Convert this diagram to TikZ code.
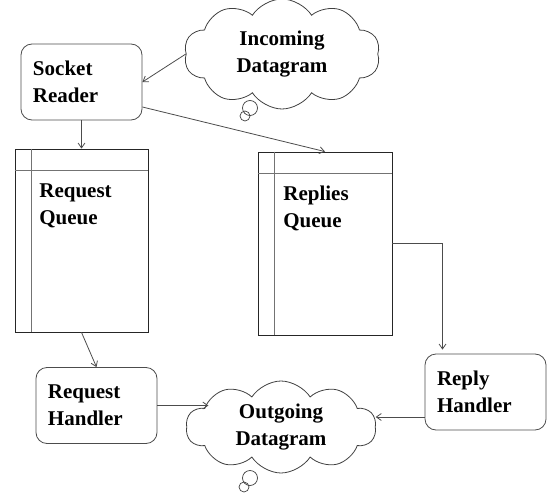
\documentclass[tikz,border=0pt]{standalone}
\usepackage{fontspec}
\setmainfont{Liberation Serif}
\usetikzlibrary{
		calc,
		positioning,
		arrows.meta,
		shapes.symbols
	}
\tikzset{
		>={Straight Barb[angle=70:6bp]}
	}
\newcommand{\Lbl}{\fontsize{21bp}{27bp}\bfseries\selectfont}

\begin{document}
\begin{tikzpicture}[x=1bp, y=1bp, line width=0.8bp, font=\Lbl,
					stepbox/.style={draw=black!70, rounded corners=11bp, align=left, text width=97bp, inner xsep=12bp, minimum height=76bp},
					queue/.style={draw=black!85, minimum width=133bp, minimum height=183bp, inner sep=0pt},
					qline/.style={draw=black!55},
					bubble/.style={cloud, draw=black!75, cloud puffs=10, cloud puff arc=115, cloud ignores aspect, align=center, inner sep=0pt},
					puff/.style={draw=black!75, line width=0.7bp},
					link/.style={->, draw=black!70}]
		\useasboundingbox (0,0) rectangle (547,-495);
		% sender side
		\node[stepbox] (sreader) at (81.5,-82) {Socket\\Reader};
		\node[bubble, minimum width=196bp, minimum height=110bp] (incoming) at (282,-54) {Incoming\\Datagram};
		\draw[puff] (250,-108) circle (7.5bp);
		\draw[puff] (245,-116) circle (5bp);
		% the two queues
		\node[queue] (rqueue) at (81.5,-240.5) {};
		\node[queue, minimum width=134bp] (pqueue) at (325,-243.5) {};
		\foreach \q in {rqueue, pqueue} {
			\draw[qline] ([xshift=17bp]\q.north west) -- ([xshift=17bp]\q.south west);
			\draw[qline] ([yshift=-22bp]\q.north west) -- ([yshift=-22bp]\q.north east);
		}
		\node[anchor=north west, inner sep=0pt, align=left] (rqtext) at (39,-183) {Request\\Queue};
		\node[anchor=north west, inner sep=0pt, align=left] (pqtext) at (283,-186) {Replies\\Queue};
		% handlers
		\node[stepbox] (reqhandler) at (96.5,-405.5) {Request\\Handler};
		\node[stepbox] (rephandler) at (485.5,-392) {Reply\\Handler};
		\node[bubble, minimum width=190bp, minimum height=92bp] (outgoing) at (281,-427) {Outgoing\\Datagram};
		\draw[puff] (250,-478) circle (7.5bp);
		\draw[puff] (244,-487) circle (5bp);
		% connectors
		\draw[link] (incoming.west) -- (sreader.east);
		\draw[link] (sreader.south) -- (rqueue.north);
		\draw[link] ([yshift=-25bp]sreader.east) -- (pqueue.north);
		\draw[link] (rqueue.south) -- (reqhandler.north);
		\draw[link] (reqhandler.east) -- (reqhandler.east -| outgoing.160);
		\coordinate (rdrop) at ([xshift=-43bp]rephandler.north);
		\draw[link] (pqueue.east) -| ([yshift=4bp]rdrop);
		\draw[link] ([yshift=-25bp]rephandler.west) -- ([yshift=-25bp]rephandler.west -| outgoing.east);
	\end{tikzpicture}
\end{document}
